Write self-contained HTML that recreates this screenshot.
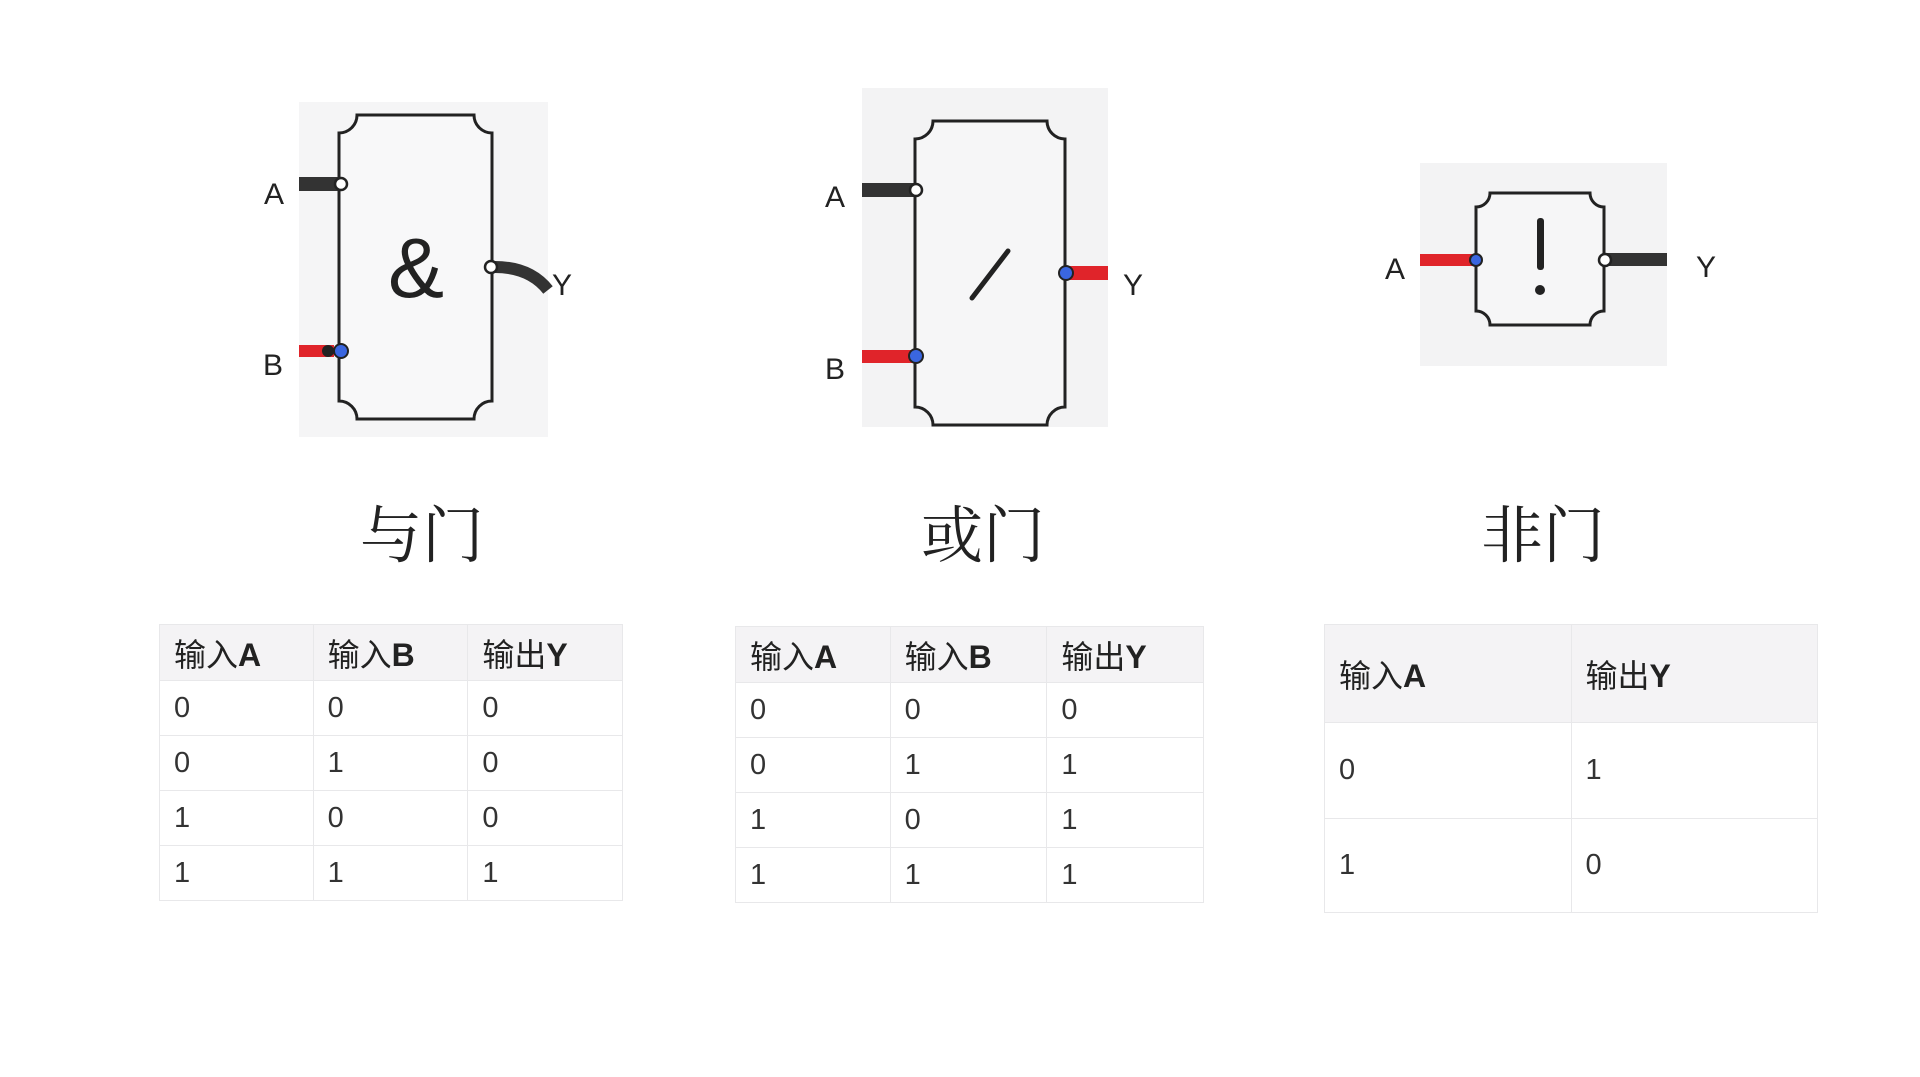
<!DOCTYPE html>
<html><head><meta charset="utf-8"><style>
body{margin:0;width:1920px;height:1077px;background:#fff;position:relative;overflow:hidden;font-family:"Liberation Sans","Noto Sans CJK SC",sans-serif;}
table{position:absolute;border-collapse:collapse;color:#333;}
td{border:1.5px solid #e8e8ea;padding:0 0 0 14px;font-size:29px;text-align:left;vertical-align:middle;}
tr.h td{background:#f4f3f5;color:#222;font-weight:normal;font-size:32px;}
tr.h b{font-weight:bold;}
.t{position:absolute;font-family:"Noto Serif CJK SC","WenQuanYi Zen Hei",serif;font-size:62px;color:#222;transform:translateX(-50%);line-height:1;}
</style></head><body>
<svg width="1920" height="1077" style="position:absolute;left:0;top:0" font-family="Liberation Sans, sans-serif">
<!-- AND -->
<rect x="299" y="102" width="249" height="335" fill="#f5f5f6"/>
<path d="M357,115 H474 A18,18 0 0 0 492,133 V401 A18,18 0 0 0 474,419 H357 A18,18 0 0 0 339,401 V133 A18,18 0 0 0 357,115 Z" fill="#f8f8f9" stroke="#222" stroke-width="3"/>
<rect x="299" y="177" width="40" height="14" fill="#333"/>
<circle cx="341" cy="184" r="6" fill="#fff" stroke="#222" stroke-width="2.5"/>
<rect x="299" y="345" width="35" height="12" fill="#e0242a"/>
<circle cx="328" cy="351" r="6" fill="#222"/>
<circle cx="341" cy="351" r="7" fill="#3a66e0" stroke="#222" stroke-width="2"/>
<path d="M495,267 Q530,267 548,290" fill="none" stroke="#333" stroke-width="12"/>
<circle cx="491" cy="267" r="6" fill="#fff" stroke="#222" stroke-width="2.5"/>
<text x="416" y="297" font-size="84" text-anchor="middle" fill="#222">&amp;</text>
<text x="274" y="204" font-size="30" text-anchor="middle" fill="#222">A</text>
<text x="273" y="375" font-size="30" text-anchor="middle" fill="#222">B</text>
<text x="562" y="295" font-size="30" text-anchor="middle" fill="#222">Y</text>
<!-- OR -->
<rect x="862" y="88" width="246" height="339" fill="#f3f3f4"/>
<path d="M933,121 H1047 A18,18 0 0 0 1065,139 V407 A18,18 0 0 0 1047,425 H933 A18,18 0 0 0 915,407 V139 A18,18 0 0 0 933,121 Z" fill="#f6f6f7" stroke="#222" stroke-width="3"/>
<rect x="862" y="183" width="53" height="14" fill="#333"/>
<circle cx="916" cy="190" r="6" fill="#fff" stroke="#222" stroke-width="2.5"/>
<rect x="862" y="350" width="53" height="13" fill="#e0242a"/>
<circle cx="916" cy="356" r="7" fill="#3a66e0" stroke="#222" stroke-width="2"/>
<rect x="1065" y="266" width="43" height="14" fill="#e0242a"/>
<circle cx="1066" cy="273" r="7" fill="#3a66e0" stroke="#222" stroke-width="2"/>
<line x1="972" y1="298" x2="1008" y2="251" stroke="#222" stroke-width="5" stroke-linecap="round"/>
<text x="835" y="207" font-size="30" text-anchor="middle" fill="#222">A</text>
<text x="835" y="379" font-size="30" text-anchor="middle" fill="#222">B</text>
<text x="1133" y="295" font-size="30" text-anchor="middle" fill="#222">Y</text>
<!-- NOT -->
<rect x="1420" y="163" width="247" height="203" fill="#f3f3f4"/>
<path d="M1490,193 H1590 A14,14 0 0 0 1604,207 V311 A14,14 0 0 0 1590,325 H1490 A14,14 0 0 0 1476,311 V207 A14,14 0 0 0 1490,193 Z" fill="#f6f6f7" stroke="#222" stroke-width="3"/>
<rect x="1420" y="254" width="56" height="12" fill="#e0242a"/>
<circle cx="1476" cy="260" r="6" fill="#3a66e0" stroke="#222" stroke-width="2"/>
<rect x="1604" y="253" width="63" height="13" fill="#333"/>
<circle cx="1605" cy="260" r="6" fill="#fff" stroke="#222" stroke-width="2.5"/>
<rect x="1537" y="218" width="7" height="52" rx="3" fill="#222"/>
<circle cx="1540" cy="290" r="5" fill="#222"/>
<text x="1395" y="279" font-size="30" text-anchor="middle" fill="#222">A</text>
<text x="1706" y="277" font-size="30" text-anchor="middle" fill="#222">Y</text>
</svg>
<div class="t" style="left:422px;top:500px">与门</div>
<div class="t" style="left:983px;top:500px">或门</div>
<div class="t" style="left:1543px;top:500px">非门</div>

<table style="left:159px;top:624px;width:464px;">
<colgroup><col style="width:154px"><col style="width:155px"><col style="width:155px"></colgroup>
<tr class="h" style="height:56px"><td>输入<b>A</b></td><td>输入<b>B</b></td><td>输出<b>Y</b></td></tr>
<tr style="height:55px"><td>0</td><td>0</td><td>0</td></tr>
<tr style="height:55px"><td>0</td><td>1</td><td>0</td></tr>
<tr style="height:55px"><td>1</td><td>0</td><td>0</td></tr>
<tr style="height:55px"><td>1</td><td>1</td><td>1</td></tr>
</table>
<table style="left:735px;top:626px;width:469px;">
<colgroup><col style="width:155px"><col style="width:157px"><col style="width:157px"></colgroup>
<tr class="h" style="height:56px"><td>输入<b>A</b></td><td>输入<b>B</b></td><td>输出<b>Y</b></td></tr>
<tr style="height:55px"><td>0</td><td>0</td><td>0</td></tr>
<tr style="height:55px"><td>0</td><td>1</td><td>1</td></tr>
<tr style="height:55px"><td>1</td><td>0</td><td>1</td></tr>
<tr style="height:55px"><td>1</td><td>1</td><td>1</td></tr>
</table>
<table style="left:1324px;top:624px;width:494px;">
<colgroup><col style="width:247px"><col style="width:247px"></colgroup>
<tr class="h" style="height:98px"><td>输入<b>A</b></td><td>输出<b>Y</b></td></tr>
<tr style="height:96px"><td>0</td><td>1</td></tr>
<tr style="height:94px"><td>1</td><td>0</td></tr>
</table>
</body></html>
